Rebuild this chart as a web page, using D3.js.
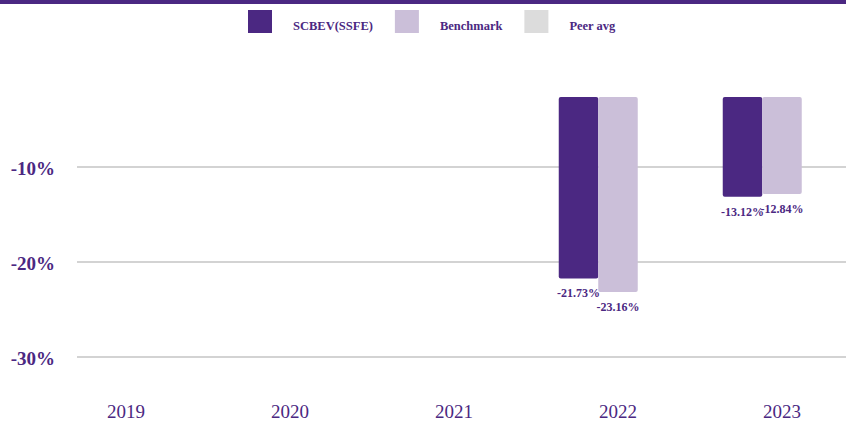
<!DOCTYPE html>
<html>
<head>
<meta charset="utf-8">
<script src="https://cdn.jsdelivr.net/npm/d3@7"></script>
<style>
  body { margin: 0; background: #fff; }
  text { font-family: "Liberation Serif", "Times New Roman", Times, serif; }
</style>
</head>
<body>
<svg id="chart" width="846" height="422"></svg>
<script>
// chart data
const years = ["2019", "2020", "2021", "2022", "2023"];
const seriesNames = ["SCBEV(SSFE)", "Benchmark", "Peer avg"];
const scbev = [null, null, null, -21.73, -13.12];
const benchmark = [null, null, null, -23.16, -12.84];
const peerAvg = [null, null, null, null, null];
const yTicks = [-10, -20, -30];

const colors = ["#4b2882", "#cbbfd9", "#dcdcdc"];
const purple = "#4b2882";

const svg = d3.select("#chart");
const width = 846, height = 422;

// top rule
svg.append("rect")
    .attr("x", 0).attr("y", 0)
    .attr("width", width).attr("height", 4)
    .attr("fill", purple);

// scales
const x = d3.scaleBand()
    .domain(years)
    .range([44, 864])
    .paddingInner(0.2774)
    .paddingOuter(0.1387);

const x1 = d3.scaleBand()
    .domain(seriesNames)
    .range([0, x.bandwidth()]);

const y = d3.scaleLinear()
    .domain([-34, -2.63])
    .range([395, 97]);

// gridlines + y labels
const grid = svg.append("g");
grid.selectAll("line")
    .data(yTicks)
    .join("line")
    .attr("x1", 77).attr("x2", width)
    .attr("y1", d => y(d)).attr("y2", d => y(d))
    .attr("stroke", "#d3d3d3")
    .attr("stroke-width", 2);

grid.selectAll("text")
    .data(yTicks)
    .join("text")
    .attr("x", 55)
    .attr("y", d => y(d))
    .attr("dy", "0.4em")
    .attr("text-anchor", "end")
    .attr("fill", purple)
    .style("font-size", "19px")
    .style("font-weight", "bold")
    .text(d => d + "%");

// x labels
svg.append("g")
    .selectAll("text")
    .data(years)
    .join("text")
    .attr("x", d => x(d) + x.bandwidth() / 2)
    .attr("y", 418)
    .attr("text-anchor", "middle")
    .attr("fill", purple)
    .style("font-size", "19px")
    .text(d => d);

// bars
const rows = [];
years.forEach((yr, i) => {
    [scbev, benchmark, peerAvg].forEach((arr, j) => {
        if (arr[i] != null) rows.push({ year: yr, series: seriesNames[j], value: arr[i], idx: j });
    });
});

const plotTop = y.range()[1];
const bars = svg.append("g");
bars.selectAll("rect")
    .data(rows)
    .join("rect")
    .attr("x", d => x(d.year) + x1(d.series))
    .attr("y", plotTop)
    .attr("width", x1.bandwidth())
    .attr("height", d => y(d.value) - plotTop)
    .attr("rx", 2)
    .attr("fill", d => colors[d.idx]);

bars.selectAll("text")
    .data(rows)
    .join("text")
    .attr("x", d => x(d.year) + x1(d.series) + x1.bandwidth() / 2)
    .attr("y", d => y(d.value) + 19)
    .attr("text-anchor", "middle")
    .attr("fill", purple)
    .style("font-size", "12px")
    .style("font-weight", "bold")
    .text(d => d.value.toFixed(2) + "%");

// legend
const legend = svg.append("g");
let lx = 248;
seriesNames.forEach((name, i) => {
    legend.append("rect")
        .attr("x", lx).attr("y", 10)
        .attr("width", 24).attr("height", 23)
        .attr("fill", colors[i]);
    const t = legend.append("text")
        .attr("x", lx + 45)
        .attr("y", 30)
        .attr("fill", purple)
        .style("font-size", "12.5px")
        .style("font-weight", "bold")
        .text(name);
    lx += 45 + t.node().getComputedTextLength() + 22;
});
</script>
</body>
</html>
